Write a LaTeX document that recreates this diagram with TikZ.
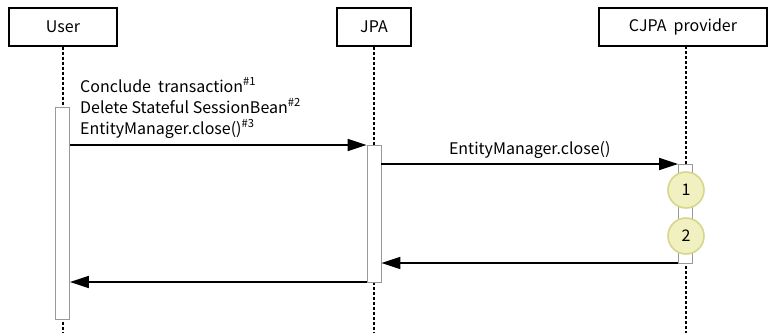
\documentclass[tikz,border=0pt]{standalone}
\usepackage{fontspec}
\setmainfont{Noto Sans CJK JP}
\usetikzlibrary{positioning,arrows.meta}

\definecolor{stepfill}{RGB}{240,240,192}
\definecolor{stepline}{RGB}{214,214,140}

\begin{document}
\begin{tikzpicture}[
    x=1pt, y=-1pt,
    font=\fontsize{16}{18}\selectfont,
    >={Triangle[length=19pt,width=12pt]},
    head/.style   ={draw, line width=1.4pt, minimum height=38pt,
                    inner sep=0pt, fill=white},
    life/.style   ={line width=1.6pt, dash pattern=on 3pt off 2pt},
    actbar/.style ={draw=gray!80, line width=0.8pt, fill=white,
                    minimum width=14pt, inner sep=0pt},
    msg/.style    ={->, line width=1.6pt},
    stepnum/.style={circle, draw=stepline, line width=1.6pt,
                    fill=stepfill, minimum size=36pt, inner sep=0pt},
]
\useasboundingbox (0,0) rectangle (768,333);

% =========================================================
% Participants and lifelines
% =========================================================
\node[head, minimum width=108pt] (user) at (63,27)  {User};
\node[head, minimum width=74pt]  (jpa)  at (374,27) {JPA};
\node[head, minimum width=168pt] (cjpa) at (683,27) {CJPA\ \ provider};

\coordinate (userend) at (63,333);
\coordinate (jpaend)  at (374,333);
\coordinate (cjpaend) at (686,333);
\draw[life] (user.south) -- (userend);
\draw[life] (jpa.south)  -- (jpaend);
\draw[life] (686,46)     -- (cjpaend);

% =========================================================
% Activation bars
% =========================================================
\node[actbar, minimum height=212pt] (useract) at (62.5,213) {};
\node[actbar, minimum height=137pt] (jpaact)  at (374,213.5) {};
\node[actbar, minimum height=99pt]  (cjpaact) at (685.5,213.5) {};

% =========================================================
% Messages
% =========================================================
\coordinate (m1s) at (useract.east |- 0,145);
\coordinate (m1e) at (jpaact.west  |- 0,145);
\draw[msg] (m1s) -- (m1e);
\node[anchor=base west, inner sep=0pt] (lbla) at (80,92)
    {Conclude\ \ transaction\textsuperscript{\#1}};
\node[anchor=base west, inner sep=0pt] (lblb) at (80,113)
    {Delete Stateful SessionBean\textsuperscript{\#2}};
\node[anchor=base west, inner sep=0pt] (lblc) at (80,134)
    {EntityManager.close()\textsuperscript{\#3}};

\coordinate (m2s) at (jpaact.east  |- 0,164);
\coordinate (m2e) at (cjpaact.west |- 0,164);
\draw[msg] (m2s) -- node[above=5pt, inner sep=0pt] (lbld)
    {EntityManager.close()} (m2e);

\node[stepnum] (s1) at (686,190) {1};
\node[stepnum] (s2) at (686,236) {2};

\coordinate (m3s) at (cjpaact.west |- 0,263);
\coordinate (m3e) at (jpaact.east  |- 0,263);
\draw[msg] (m3s) -- (m3e);

\coordinate (m4s) at (jpaact.west  |- 0,282);
\coordinate (m4e) at (useract.east |- 0,282);
\draw[msg] (m4s) -- (m4e);

\end{tikzpicture}
\end{document}
